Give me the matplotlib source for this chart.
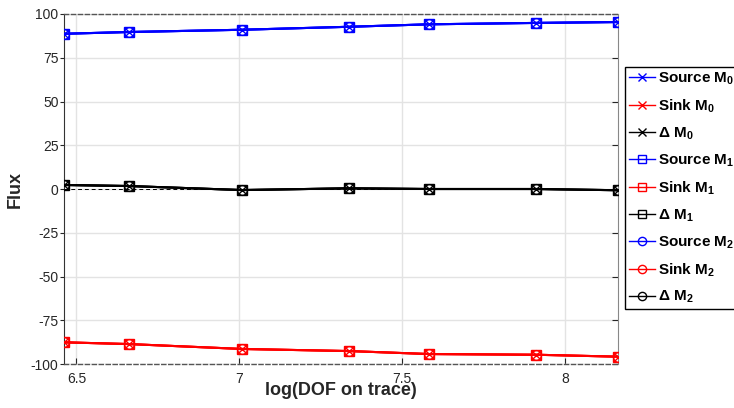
import numpy as np
import matplotlib
matplotlib.use("Agg")
import matplotlib.pyplot as plt

# log(DOF on trace) values and fluxes
log_dof = [6.462, 6.661, 7.009, 7.337, 7.582, 7.911, 8.161]
source = [88.7, 89.7, 91.0, 92.7, 94.1, 94.9, 95.4]
sink = [-87.6, -88.6, -91.4, -92.6, -94.3, -94.7, -95.8]
delta = [2.3, 1.7, -0.6, 0.4, 0.0, 0.0, -0.7]
moments = ["0", "1", "2"]
markers = ["x", "s", "o"]
xticks = [6.5, 7, 7.5, 8]
yticks = [-100, -75, -50, -25, 0, 25, 50, 75, 100]

plt.rcParams['font.family'] = ['Liberation Sans', 'DejaVu Sans']
plt.rcParams['axes.unicode_minus'] = False
plt.rcParams['mathtext.fontset'] = 'custom'
plt.rcParams['mathtext.rm'] = 'Liberation Sans:bold'
plt.rcParams['mathtext.bf'] = 'Liberation Sans:bold'
plt.rcParams['mathtext.it'] = 'Liberation Sans:bold'
plt.rcParams['mathtext.default'] = 'bf'

fig = plt.figure(figsize=(7.34, 4.08), dpi=100)
ax = fig.add_axes([0.0872, 0.1078, 0.7544, 0.8579])

ax.axhline(0, color='black', linestyle='--', linewidth=0.7, dashes=(4, 3), zorder=2)

for m, mk in zip(moments, markers):
    ax.plot(log_dof, source, color='#0000FF', marker=mk, markersize=7, mfc='none',
            linewidth=1.5, label='Source M$_{%s}$' % m, zorder=3)
    ax.plot(log_dof, sink, color='#FF0000', marker=mk, markersize=7, mfc='none',
            linewidth=1.5, label='Sink M$_{%s}$' % m, zorder=3)
    ax.plot(log_dof, delta, color='black', marker=mk, markersize=7, mfc='none',
            linewidth=1.5, label='\u0394 M$_{%s}$' % m, zorder=3)

ax.set_xlim(log_dof[0], log_dof[-1])
ax.set_ylim(-100, 100)
ax.set_xticks(xticks)
ax.set_xticklabels(['6.5', '7', '7.5', '8'])
ax.set_yticks(yticks)
ax.grid(True, color='#e3e3e3', linewidth=1.0, zorder=0)
ax.set_axisbelow(True)

for s in ['top', 'bottom']:
    ax.spines[s].set_linestyle((0, (3, 2)))
    ax.spines[s].set_color('#555555')
    ax.spines[s].set_linewidth(1.0)
ax.spines['left'].set_color('#333333')
ax.spines['right'].set_color('#888888')
for s in ax.spines.values():
    s.set_zorder(1)

ax.tick_params(axis='y', direction='out', length=3, width=0.8, pad=1,
               labelsize=10, colors='#262626', right=True)
ax.tick_params(axis='x', direction='in', length=4, width=0.8, pad=6,
               labelsize=10, colors='#262626')
for t in ax.yaxis.get_major_ticks():
    t.tick2line.set_marker(matplotlib.lines.TICKLEFT)
    t.tick2line.set_markersize(4)
    t.tick2line.set_color('#888888')

ax.set_ylabel('Flux', fontsize=13, fontweight='bold', color='#262626')
ax.yaxis.set_label_coords(-0.072, 0.5)
ax.set_xlabel('log(DOF on trace)', fontsize=13, fontweight='bold', color='#262626')
ax.xaxis.set_label_coords(0.5, -0.076)
ax.xaxis.label.set_va('center')

leg = fig.legend(loc='upper left', bbox_to_anchor=(0.852, 0.8365),
                 prop={'weight': 'bold', 'size': 11},
                 frameon=True, fancybox=False, edgecolor='black', framealpha=1,
                 handlelength=1.7, handletextpad=0.2, labelspacing=0.69,
                 borderpad=0.25, borderaxespad=0, markerscale=0.85)
leg.get_frame().set_linewidth(1.0)
for line in leg.get_lines():
    line.set_linewidth(1.0)

fig.savefig('out.png', dpi=100)
